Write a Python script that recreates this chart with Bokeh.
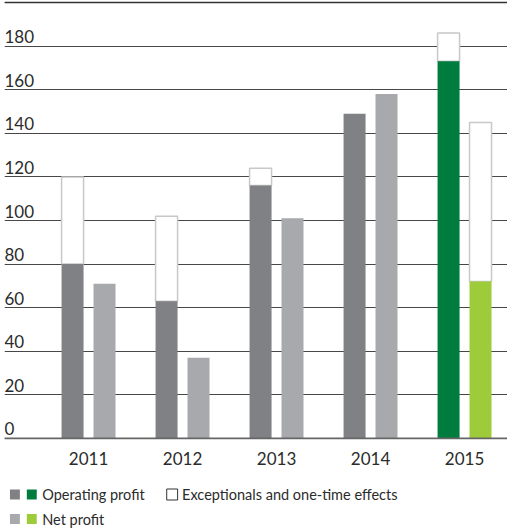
from bokeh.plotting import figure
from bokeh.models import Range1d, FixedTicker, Span, ColumnDataSource
from bokeh.layouts import column
from bokeh.embed import file_html
from bokeh.resources import INLINE
from bokeh.core.properties import value

# ---------------- data ----------------
years = ["2011", "2012", "2013", "2014", "2015"]
operating_profit = [80, 63, 116, 149, 173]
operating_exceptionals = [40, 39, 8, 0, 13]
net_profit = [71, 37, 101, 158, 72]
net_exceptionals = [0, 0, 0, 0, 73]
y_ticks = [0, 20, 40, 60, 80, 100, 120, 140, 160, 180, 200]
y_tick_labels = ["0", "20", "40", "60", "80", "100", "120", "140", "160", "180"]
legend_labels = ["Operating profit", "Exceptionals and one-time effects", "Net profit"]

# ---------------- styles ----------------
FONT = "Lato"
TXT = "#2b2b2b"
GRAY_DARK = "#808184"
GRAY_LIGHT = "#a7a9ac"
GREEN_DARK = "#007c3e"
GREEN_LIGHT = "#9ecb3a"
BOX_LINE = "#c8c8c8"
highlight = len(years) - 1
op_colors = [GREEN_DARK if i == highlight else GRAY_DARK for i in range(len(years))]
net_colors = [GREEN_LIGHT if i == highlight else GRAY_LIGHT for i in range(len(years))]

OFF = 0.17
BW = 0.234
idx = list(range(len(years)))

p = figure(width=507, height=469, output_backend="svg", toolbar_location=None,
           x_range=Range1d(-0.894, 4.457), y_range=Range1d(-0.46, 200.92),
           y_axis_location=None, min_border_top=0, min_border_left=4,
           min_border_right=0, min_border_bottom=30)
p.outline_line_color = None
p.background_fill_color = "white"
p.border_fill_color = "white"
p.xgrid.visible = False
p.ygrid.ticker = FixedTicker(ticks=y_ticks)
p.ygrid.grid_line_color = "#474747"
p.ygrid.grid_line_width = 1

# exceptional boxes (drawn first so the bars sit over their lower edge)
op_box = ColumnDataSource(dict(
    x=[i - OFF for i in idx if operating_exceptionals[i] > 0],
    bottom=[operating_profit[i] for i in idx if operating_exceptionals[i] > 0],
    top=[operating_profit[i] + operating_exceptionals[i] for i in idx if operating_exceptionals[i] > 0]))
net_box = ColumnDataSource(dict(
    x=[i + OFF for i in idx if net_exceptionals[i] > 0],
    bottom=[net_profit[i] for i in idx if net_exceptionals[i] > 0],
    top=[net_profit[i] + net_exceptionals[i] for i in idx if net_exceptionals[i] > 0]))
for src in (op_box, net_box):
    p.vbar(x="x", bottom="bottom", top="top", width=BW, source=src,
           fill_color="white", line_color=BOX_LINE, line_width=1.5)

op_src = ColumnDataSource(dict(x=[i - OFF for i in idx], top=operating_profit, color=op_colors))
net_src = ColumnDataSource(dict(x=[i + OFF for i in idx], top=net_profit, color=net_colors))
p.vbar(x="x", bottom=0, top="top", width=BW, source=op_src, fill_color="color", line_color=None)
p.vbar(x="x", bottom=0, top="top", width=BW, source=net_src, fill_color="color", line_color=None)

# top and baseline rules
p.add_layout(Span(location=200, dimension="width", line_color="#333333", line_width=1.6))
p.add_layout(Span(location=0, dimension="width", line_color="#666666", line_width=2))

# y tick labels, sitting on their grid lines
lab_src = ColumnDataSource(dict(x=[p.x_range.start] * len(y_tick_labels),
                                y=y_ticks[:len(y_tick_labels)], t=y_tick_labels))
p.text(x="x", y="y", text="t", source=lab_src, text_font=value(FONT),
       text_font_size="17px", text_color=TXT, text_align="left",
       text_baseline="bottom", x_offset=0, y_offset=-3)

# x axis
p.xaxis.ticker = FixedTicker(ticks=idx)
p.xaxis.major_label_overrides = {i: y for i, y in zip(idx, years)}
p.xaxis.axis_line_color = None
p.xaxis.major_tick_line_color = None
p.xaxis.minor_tick_line_color = None
p.xaxis.major_label_text_font = FONT
p.xaxis.major_label_text_font_size = "17px"
p.xaxis.major_label_text_color = TXT
p.xaxis.major_label_standoff = 6

# ---------------- legend ----------------
LW, LH = 507, 59
lg = figure(width=LW, height=LH, output_backend="svg", toolbar_location=None,
            x_range=Range1d(0, LW), y_range=Range1d(LH, 0),
            x_axis_location=None, y_axis_location=None,
            min_border=0, min_border_left=0, min_border_right=0,
            min_border_top=0, min_border_bottom=0)
lg.outline_line_color = None
lg.xgrid.visible = False
lg.ygrid.visible = False
lg.border_fill_color = "white"

row1, row2 = 25, 49.5
sq = ColumnDataSource(dict(
    x=[10.5, 27.5, 10.5, 27.5],
    y=[row1, row1, row2, row2],
    c=[GRAY_DARK, GREEN_DARK, GRAY_LIGHT, GREEN_LIGHT]))
lg.rect(x="x", y="y", width=10, height=10, source=sq, fill_color="c", line_color=None)
lg.rect(x=[169], y=[row1], width=11, height=11, fill_color="white",
        line_color="#333333", line_width=1)
lt = ColumnDataSource(dict(x=[38, 179, 38], y=[row1, row1, row2], t=legend_labels))
lg.text(x="x", y="y", text="t", source=lt, text_font=value(FONT), text_font_size="14.5px",
        text_color=TXT, text_align="left", text_baseline="middle")

layout = column(p, lg, spacing=0)
open("out.html", "w").write(file_html(layout, INLINE))
